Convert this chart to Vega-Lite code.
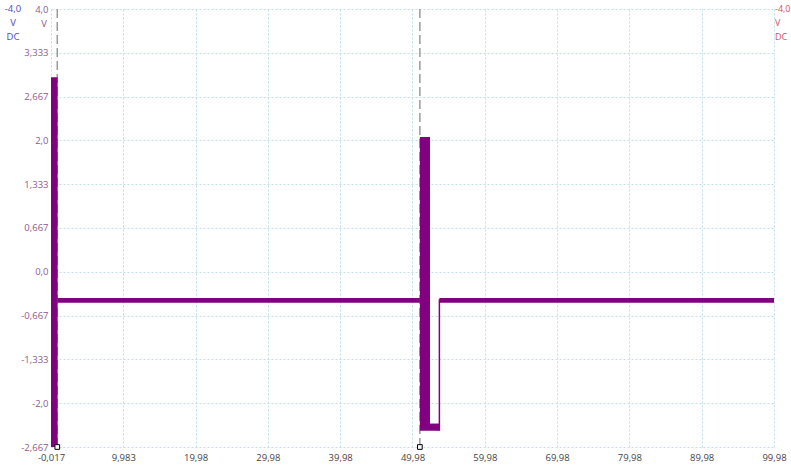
{
  "$schema": "https://vega.github.io/schema/vega-lite/v6.json",
  "width": 723,
  "height": 438,
  "autosize": "none",
  "padding": {"left": 51, "top": 9, "right": 17, "bottom": 18},
  "background": "white",
  "config": {
    "view": {"stroke": null},
    "font": "Open Sans"
  },
  "datasets": {
    "blocks": [
      {"t0": -0.017, "t1": 0.9, "lo": -2.667, "hi": 2.96},
      {"t0": 51.0, "t1": 52.4, "lo": -2.42, "hi": 2.05},
      {"t0": 52.4, "t1": 53.7, "lo": -2.42, "hi": -2.31},
      {"t0": 0.9, "t1": 51.0, "lo": -0.47, "hi": -0.40},
      {"t0": 53.7, "t1": 99.98, "lo": -0.47, "hi": -0.40}
    ],
    "edges": [
      {"t": 53.7, "lo": -2.42, "hi": -0.42}
    ],
    "triggers": [
      {"t": 0.85, "top": 4.0, "bottom": -2.667},
      {"t": 51.0, "top": 4.0, "bottom": -2.667}
    ]
  },
  "layer": [
    {
      "data": {"name": "triggers"},
      "mark": {"type": "rule", "color": "#9a9a9a", "strokeWidth": 1.5, "strokeDash": [9, 4]},
      "encoding": {
        "x": {
          "field": "t", "type": "quantitative",
          "scale": {"domain": [-0.017, 99.98], "nice": false, "zero": false},
          "axis": {
            "values": [-0.017, 9.983, 19.98, 29.98, 39.98, 49.98, 59.98, 69.98, 79.98, 89.98, 99.98],
            "labelExpr": "replace(toString(datum.value), '.', ',')",
            "title": null,
            "domain": false,
            "ticks": false,
            "labelPadding": 5,
            "labelFontSize": 9.5,
            "labelColor": "#444444",
            "labelFont": "Open Sans",
            "grid": true,
            "gridColor": "#bfe0ea",
            "gridDash": [2, 2],
            "gridWidth": 1,
            "labelOverlap": false,
            "labelBound": false,
            "labelFlush": false
          }
        },
        "y": {
          "field": "top", "type": "quantitative",
          "scale": {"domain": [-2.667, 4.0], "nice": false, "zero": false},
          "axis": {
            "values": [4.0, 3.333, 2.667, 2.0, 1.333, 0.667, 0.0, -0.667, -1.333, -2.0, -2.667],
            "labelExpr": "replace(datum.value % 1 == 0 ? toString(datum.value) + '.0' : toString(datum.value), '.', ',')",
            "title": null,
            "domain": false,
            "ticks": false,
            "labelPadding": 3,
            "labelFontSize": 9.5,
            "labelColor": "#8e5a8e",
            "labelFont": "Open Sans",
            "grid": true,
            "gridColor": "#bfe0ea",
            "gridDash": [2, 2],
            "gridWidth": 1,
            "labelOverlap": false,
            "labelBound": false,
            "labelFlush": false
          }
        },
        "y2": {"field": "bottom"}
      }
    },
    {
      "data": {"name": "blocks"},
      "mark": {"type": "rect", "color": "#800080"},
      "encoding": {
        "x": {"field": "t0", "type": "quantitative"},
        "x2": {"field": "t1"},
        "y": {"field": "hi", "type": "quantitative"},
        "y2": {"field": "lo"}
      }
    },
    {
      "data": {"name": "edges"},
      "mark": {"type": "rule", "color": "#800080", "strokeWidth": 1.5},
      "encoding": {
        "x": {"field": "t", "type": "quantitative"},
        "y": {"field": "hi", "type": "quantitative"},
        "y2": {"field": "lo"}
      }
    },
    {
      "data": {"name": "triggers"},
      "mark": {"type": "point", "shape": "square", "filled": true, "fill": "white", "stroke": "black", "strokeWidth": 1, "size": 22, "opacity": 1},
      "encoding": {
        "x": {"field": "t", "type": "quantitative"},
        "y": {"field": "bottom", "type": "quantitative"}
      }
    },
    {
      "data": {"values": [{"t": -0.017, "v": 4.0, "txt": "-4,0\nV\nDC"}]},
      "mark": {"type": "text", "color": "#4a4ac0", "fontSize": 9.5, "align": "center", "baseline": "middle", "dx": -38, "lineBreak": "\n", "lineHeight": 14},
      "encoding": {
        "x": {"field": "t", "type": "quantitative"},
        "y": {"field": "v", "type": "quantitative"},
        "text": {"field": "txt"}
      }
    },
    {
      "data": {"values": [{"t": -0.017, "v": 4.0, "txt": "V"}]},
      "mark": {"type": "text", "color": "#8e5a8e", "fontSize": 9.5, "align": "right", "baseline": "middle", "dx": -4, "dy": 15},
      "encoding": {
        "x": {"field": "t", "type": "quantitative"},
        "y": {"field": "v", "type": "quantitative"},
        "text": {"field": "txt"}
      }
    },
    {
      "data": {"values": [{"t": 99.98, "v": 4.0, "txt": "-4,0\nV\nDC"}]},
      "mark": {"type": "text", "color": "#e0505a", "fontSize": 9, "align": "left", "baseline": "middle", "dx": 1, "lineBreak": "\n", "lineHeight": 14},
      "encoding": {
        "x": {"field": "t", "type": "quantitative"},
        "y": {"field": "v", "type": "quantitative"},
        "text": {"field": "txt"}
      }
    }
  ]
}
